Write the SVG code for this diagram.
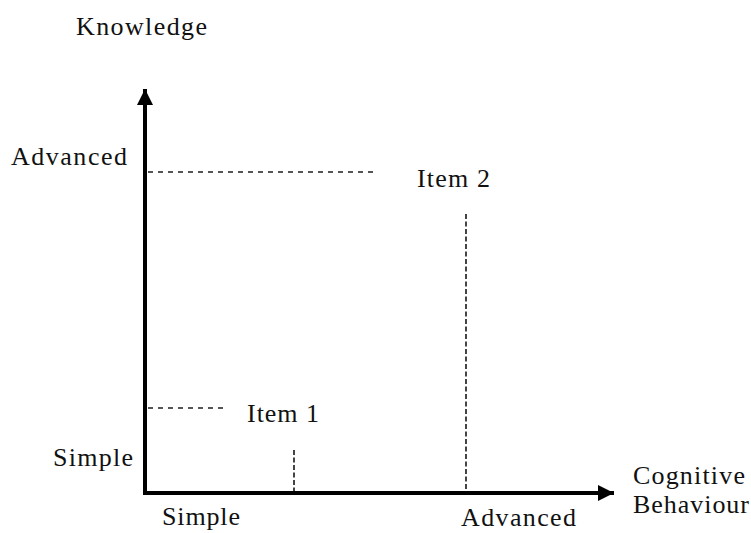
<svg xmlns="http://www.w3.org/2000/svg" width="751" height="533" viewBox="0 0 751 533">
<style>
text{font-family:'Liberation Serif',serif;font-size:26px;fill:#111}
.axis{stroke:#000;stroke-width:4;fill:none}
.dh{stroke:#555;stroke-width:2;stroke-dasharray:5 5;fill:none}
.dv{stroke:#444;stroke-width:2;stroke-dasharray:5 2.5;fill:none}
</style>
<defs>
<marker id="arr" markerUnits="userSpaceOnUse" markerWidth="18" markerHeight="18" refX="16" refY="8" orient="auto">
<path d="M0,0 L16,8 L0,16 Z" fill="#000"/>
</marker>
</defs>
<rect width="751" height="533" fill="#fff"/>
<g id="connectors">
<line class="axis" x1="145" y1="493" x2="145" y2="89" marker-end="url(#arr)"/>
<line class="axis" x1="143" y1="493" x2="614" y2="493" marker-end="url(#arr)"/>
<line class="dh" x1="148" y1="172" x2="377" y2="172"/>
<line class="dh" x1="148" y1="408" x2="228" y2="408"/>
<line class="dv" x1="466" y1="214" x2="466" y2="491"/>
<line class="dv" x1="294" y1="450" x2="294" y2="491"/>
</g>
<g id="y-title"><text x="76" y="35" textLength="131" lengthAdjust="spacing">Knowledge</text></g>
<g id="y-advanced"><text x="11" y="165" textLength="116" lengthAdjust="spacing">Advanced</text></g>
<g id="y-simple"><text x="53" y="466" textLength="80" lengthAdjust="spacing">Simple</text></g>
<g id="item2"><text x="417" y="187" textLength="73" lengthAdjust="spacing">Item 2</text></g>
<g id="item1"><text x="247" y="422" textLength="72" lengthAdjust="spacing">Item 1</text></g>
<g id="x-simple"><text x="162" y="525" textLength="78" lengthAdjust="spacing">Simple</text></g>
<g id="x-advanced"><text x="461" y="526" textLength="115" lengthAdjust="spacing">Advanced</text></g>
<g id="x-title">
<text x="633" y="484" textLength="112" lengthAdjust="spacing">Cognitive</text>
<text x="633" y="513" textLength="116" lengthAdjust="spacing">Behaviour</text>
</g>
</svg>
